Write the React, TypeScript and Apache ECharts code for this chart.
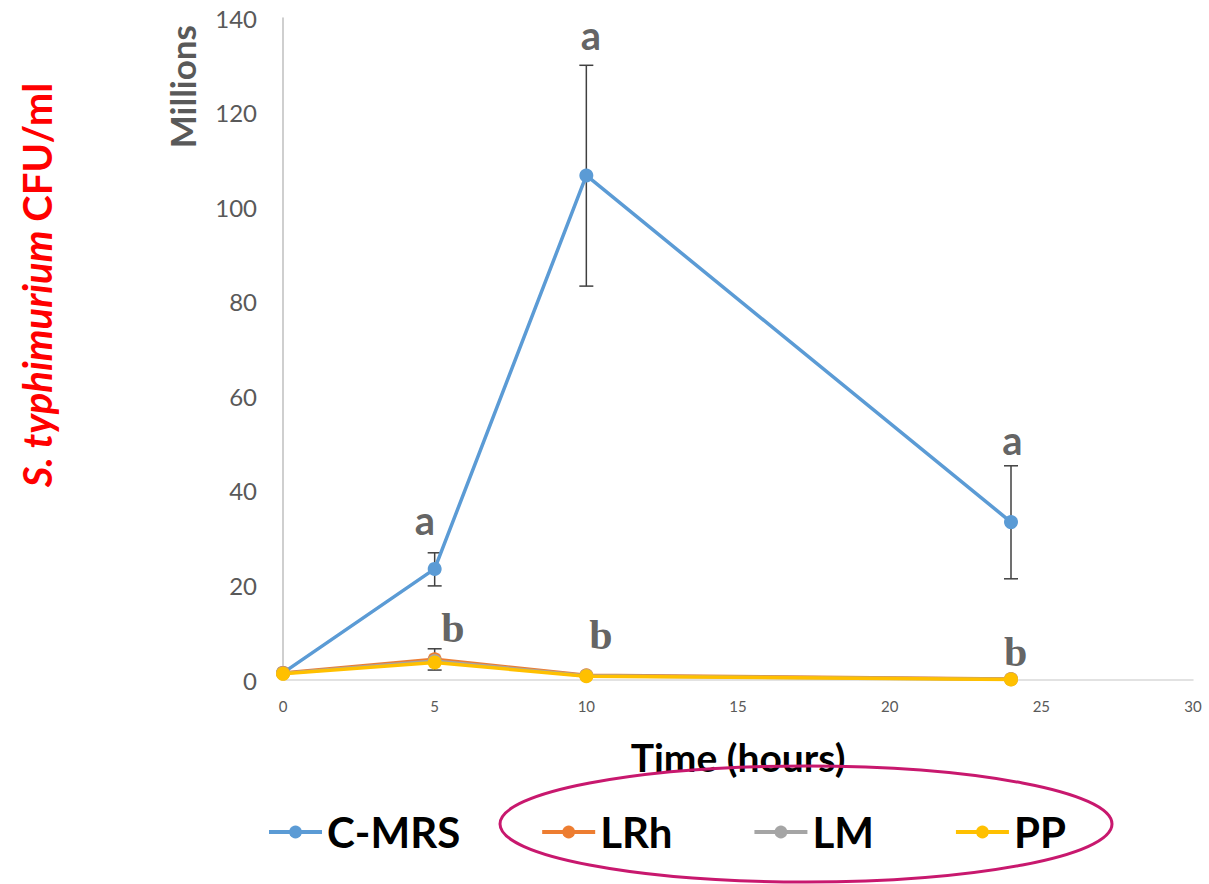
import React, { useEffect, useRef } from "react";
import * as echarts from "echarts";

const hours = [0, 5, 10, 24];
const cmrs = [1.5, 23.5, 106.7, 33.4];
const cmrsLow = [1.5, 19.9, 83.3, 21.4];
const cmrsHigh = [1.5, 26.9, 130.0, 45.3];
const lrh = [1.5, 4.4, 1.0, 0.2];
const lrhLow = [1.5, 2.1, 1.0, 0.2];
const lrhHigh = [1.5, 6.6, 1.0, 0.2];
const lm = [1.4, 4.0, 0.9, 0.15];
const pp = [1.3, 3.7, 0.8, 0.1];
const letterA = [
  [4.68, 33.8, "a"],
  [10.15, 136.4, "a"],
  [24.05, 50.7, "a"],
];
const letterB = [
  [5.6, 11.0, "b"],
  [10.48, 9.5, "b"],
  [24.15, 5.9, "b"],
];
const xTicks = { min: 0, max: 30, interval: 5 };
const yTicks = { min: 0, max: 140, interval: 20 };

const FONT = "Lato, 'Open Sans', sans-serif";

export default function App() {
  const ref = useRef<HTMLDivElement>(null);
  useEffect(() => {
    if (!ref.current) return;
    const chart = echarts.init(ref.current, null, { renderer: "svg" });
    const lineSeries = (name: string, vals: number[], color: string, z: number) => ({
      name,
      type: "line",
      data: hours.map((h, i) => [h, vals[i]]),
      symbol: "circle",
      symbolSize: 14,
      lineStyle: { color, width: 3.5 },
      itemStyle: { color },
      z,
    });
    const errData: number[][] = [];
    hours.forEach((h, i) => {
      if (cmrsHigh[i] - cmrsLow[i] > 0.01) errData.push([h, cmrsLow[i], cmrsHigh[i]]);
      if (lrhHigh[i] - lrhLow[i] > 0.01) errData.push([h, lrhLow[i], lrhHigh[i]]);
    });
    const letterSeries = (data: any[], font: string, size: number) => ({
      type: "scatter",
      data,
      symbolSize: 1,
      itemStyle: { color: "rgba(0,0,0,0)" },
      silent: true,
      z: 10,
      label: {
        show: true,
        position: "inside",
        formatter: (p: any) => p.data[2],
        fontFamily: font,
        fontWeight: "bold",
        fontSize: size,
        color: "#3b3b3b",
      },
    });
    chart.setOption({
      animation: false,
      backgroundColor: "#ffffff",
      grid: { left: 283, right: 16, top: 18, bottom: 204 },
      xAxis: {
        type: "value",
        ...xTicks,
        name: "Time (hours)",
        nameLocation: "middle",
        nameGap: 57,
        nameTextStyle: { fontFamily: FONT, fontWeight: "bold", fontSize: 39, color: "#000" },
        axisLine: { show: true, lineStyle: { color: "#d9d9d9", width: 1.5 } },
        axisTick: { show: false },
        splitLine: { show: false },
        axisLabel: { fontFamily: FONT, fontSize: 15, color: "#595959", margin: 18 },
      },
      yAxis: {
        type: "value",
        ...yTicks,
        name: "Millions",
        nameLocation: "end",
        nameRotate: 90,
        nameGap: 0,
        nameTextStyle: {
          fontFamily: FONT,
          fontWeight: "bold",
          fontSize: 35,
          color: "#595959",
          align: "right",
          verticalAlign: "bottom",
          padding: [0, 7, 84, 0],
        },
        axisLine: { show: true, lineStyle: { color: "#bfbfbf", width: 1.5 } },
        axisTick: { show: false },
        splitLine: { show: false },
        axisLabel: { fontFamily: FONT, fontSize: 24, color: "#595959", margin: 26 },
      },
      legend: {
        left: 262,
        top: 806,
        itemWidth: 53,
        itemHeight: 16,
        itemGap: 80,
        lineStyle: { width: 4 },
        textStyle: { fontFamily: FONT, fontWeight: "bold", fontSize: 42, color: "#000" },
        data: ["C-MRS", "LRh", "LM", "PP"],
      },
      series: [
        {
          type: "custom",
          name: "err",
          data: errData,
          z: 1,
          silent: true,
          renderItem: (params: any, api: any) => {
            const x = api.value(0);
            const lo = api.coord([x, api.value(1)]);
            const hi = api.coord([x, api.value(2)]);
            const w = 7;
            const style = { stroke: "#404040", lineWidth: 1.5 };
            return {
              type: "group",
              children: [
                { type: "line", shape: { x1: lo[0], y1: lo[1], x2: hi[0], y2: hi[1] }, style },
                { type: "line", shape: { x1: lo[0] - w, y1: lo[1], x2: lo[0] + w, y2: lo[1] }, style },
                { type: "line", shape: { x1: hi[0] - w, y1: hi[1], x2: hi[0] + w, y2: hi[1] }, style },
              ],
            };
          },
        },
        lineSeries("C-MRS", cmrs, "#5B9BD5", 3),
        lineSeries("LRh", lrh, "#ED7D31", 4),
        lineSeries("LM", lm, "#A5A5A5", 5),
        lineSeries("PP", pp, "#FFC000", 6),
        letterSeries(letterA, FONT, 40),
        letterSeries(letterB, "'Liberation Serif', 'DejaVu Serif', serif", 42),
      ],
      graphic: [
        {
          type: "text",
          x: 37,
          y: 285,
          rotation: Math.PI / 2,
          style: {
            text: "{i|S. typhimurium\u00a0}{n|CFU/ml}",
            align: "center",
            verticalAlign: "middle",
            rich: {
              i: { fontFamily: FONT, fontWeight: "bold", fontStyle: "italic", fontSize: 40, fill: "#ff0000" },
              n: { fontFamily: FONT, fontWeight: "bold", fontSize: 40, fill: "#ff0000" },
            },
          },
        },
        {
          type: "ellipse",
          shape: { cx: 806, cy: 824, rx: 306, ry: 58 },
          style: { fill: "none", stroke: "#C8186E", lineWidth: 3 },
          z: 20,
        },
      ],
    });
    return () => chart.dispose();
  }, []);
  return (
    <div
      ref={ref}
      style={{ position: "absolute", left: 0, top: 0, width: 1209, height: 884 }}
    />
  );
}
